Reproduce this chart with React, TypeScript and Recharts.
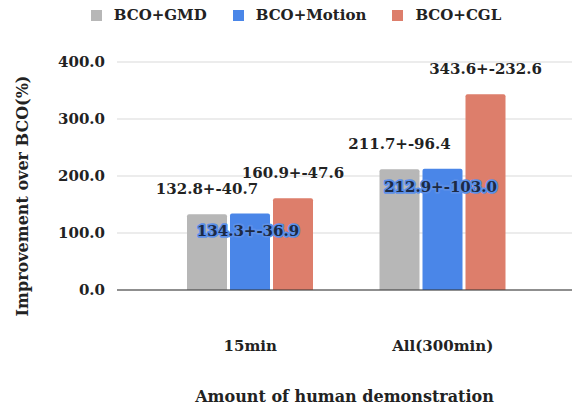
import React from 'react';
import { BarChart, Bar, XAxis, YAxis, CartesianGrid, Legend, LabelList, Label } from 'recharts';

const categories = ['15min', 'All(300min)'];
const seriesNames = ['BCO+GMD', 'BCO+Motion', 'BCO+CGL'];
const gmd = [132.8, 211.7];
const gmdErr = [40.7, 96.4];
const motion = [134.3, 212.9];
const motionErr = [36.9, 103.0];
const cgl = [160.9, 343.6];
const cglErr = [47.6, 232.6];
const yTicks = [0, 100, 200, 300, 400];
const colors = ['#b7b7b7', '#4a86e8', '#dd7e6b'];

const data = categories.map((c, i) => ({
  name: c,
  gmd: gmd[i],
  gmdErr: gmdErr[i],
  motion: motion[i],
  motionErr: motionErr[i],
  cgl: cgl[i],
  cglErr: cglErr[i],
}));

const FONT = '"DejaVu Serif", serif';

const makeLabel = (errs: number[], mode: 'above' | 'inside') => (props: any) => {
  const { x, y, width, value, index } = props;
  const text = `${Number(value).toFixed(1)}+-${errs[index].toFixed(1)}`;
  const cx = x + width / 2;
  if (mode === 'above') {
    return (
      <text x={cx} y={y - 25} textAnchor="middle" dominantBaseline="central" fontFamily={FONT} fontWeight={700} fontSize={15} fill="#222">
        {text}
      </text>
    );
  }
  return (
    <text x={cx - 2} y={y + 18} textAnchor="middle" dominantBaseline="central" fontFamily={FONT} fontWeight={700} fontSize={15} fill="#1c2a44" stroke="#5b8fe8" strokeWidth={3.5} paintOrder="stroke" strokeLinejoin="round">
      {text}
    </text>
  );
};

const LegendContent = () => (
  <div style={{ display: 'flex', justifyContent: 'center', alignItems: 'center', height: 30, fontFamily: FONT, fontWeight: 700, fontSize: 15, color: '#222', paddingLeft: 18 }}>
    {seriesNames.map((n, i) => (
      <div key={n} style={{ display: 'flex', alignItems: 'center', marginRight: i < 2 ? 26 : 0 }}>
        <span style={{ width: 11, height: 11, background: colors[i], display: 'inline-block', marginRight: 12 }} />
        <span>{n}</span>
      </div>
    ))}
  </div>
);

export default function App() {
  return (
    <div style={{ position: 'absolute', left: 0, top: 0, width: 574, height: 406, background: '#fff' }}>
      <BarChart width={574} height={406} data={data} margin={{ top: 32, right: 2, bottom: 5, left: 0 }} barSize={40} barGap={3} style={{ fontFamily: FONT }}>
        <CartesianGrid vertical={false} stroke="#d9d9d9" />
        <Legend verticalAlign="top" content={<LegendContent />} wrapperStyle={{ top: 0, left: 0, width: 574 }} />
        <XAxis dataKey="name" padding={{ left: 37, right: 33 }} axisLine={{ stroke: '#333' }} tickLine={false} tickSize={0} tickMargin={50} height={111}
          tick={{ fontFamily: FONT, fontWeight: 700, fontSize: 15, fill: '#222' }}>
          <Label content={(p: any) => {
            const vb = p.viewBox;
            return (
              <text x={vb.x + vb.width / 2 - 0} y={396} textAnchor="middle" dominantBaseline="central" fontFamily={FONT} fontWeight={700} fontSize={16} fill="#222">
                Amount of human demonstration
              </text>
            );
          }} />
        </XAxis>
        <YAxis domain={[0, 400]} ticks={yTicks} tickFormatter={(v: number) => v.toFixed(1)} axisLine={false} tickLine={false} width={117} tickMargin={6}
          tick={{ fontFamily: FONT, fontWeight: 700, fontSize: 15, fill: '#222' }}>
          <Label content={() => (
            <text x={22} y={196} transform="rotate(-90 22 196)" textAnchor="middle" dominantBaseline="central" fontFamily={FONT} fontWeight={700} fontSize={16} fill="#222">
              Improvement over BCO(%)
            </text>
          )} />
        </YAxis>
        <Bar dataKey="gmd" name={seriesNames[0]} fill={colors[0]} radius={[2, 2, 0, 0]} isAnimationActive={false}>
          <LabelList dataKey="gmd" content={makeLabel(gmdErr, 'above')} />
        </Bar>
        <Bar dataKey="motion" name={seriesNames[1]} fill={colors[1]} radius={[2, 2, 0, 0]} isAnimationActive={false}>
          <LabelList dataKey="motion" content={makeLabel(motionErr, 'inside')} />
        </Bar>
        <Bar dataKey="cgl" name={seriesNames[2]} fill={colors[2]} radius={[2, 2, 0, 0]} isAnimationActive={false}>
          <LabelList dataKey="cgl" content={makeLabel(cglErr, 'above')} />
        </Bar>
      </BarChart>
    </div>
  );
}
